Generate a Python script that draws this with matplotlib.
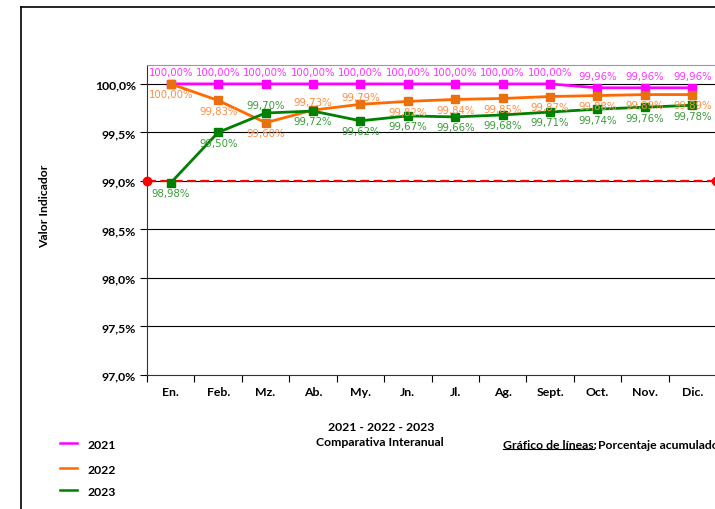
import matplotlib
matplotlib.use('Agg')
import matplotlib.pyplot as plt
from matplotlib.lines import Line2D
from matplotlib.ticker import FuncFormatter, MultipleLocator

# monthly accumulated percentage, one list per year
months = ['En.', 'Feb.', 'Mz.', 'Ab.', 'My.', 'Jn.', 'Jl.', 'Ag.', 'Sept.', 'Oct.', 'Nov.', 'Dic.']
val_2021 = [100.00, 100.00, 100.00, 100.00, 100.00, 100.00, 100.00, 100.00, 100.00, 99.96, 99.96, 99.96]
val_2022 = [100.00, 99.83, 99.60, 99.73, 99.79, 99.82, 99.84, 99.85, 99.87, 99.88, 99.89, 99.89]
val_2023 = [98.98, 99.50, 99.70, 99.72, 99.62, 99.67, 99.66, 99.68, 99.71, 99.74, 99.76, 99.78]
target = 99.0

# where each data label sits: a = above the point, b = below
pos_2021 = ['a'] * 12
pos_2022 = ['b', 'b', 'b', 'a', 'a', 'b', 'b', 'b', 'b', 'b', 'b', 'b']
pos_2023 = ['b', 'b', 'a', 'b', 'b', 'b', 'b', 'b', 'b', 'b', 'b', 'b']

series = [
    ('2021', val_2021, pos_2021, '#FF00FF', '#FF00FF', '#FF33FF', 8.5),
    ('2022', val_2022, pos_2022, '#FF6A00', '#E8700F', '#FF8C42', 5.5),
    ('2023', val_2023, pos_2023, '#008000', '#008000', '#3A9A3A', 5.5),
]

TXT = dict(fontsize=8.8, fontweight='bold', family='Lato')

W, H = 715, 510
fig = plt.figure(figsize=(W / 100, H / 100), dpi=100)
ax = fig.add_axes([147 / W, 1 - 376 / H, 569 / W, (376 - 65.5) / H])

x = list(range(len(months)))
ax.set_xlim(-0.5, len(months) - 0.5)
ax.set_ylim(97.0, 100.2)

# horizontal grid
for g in [97.5, 98.0, 98.5, 99.0, 99.5, 100.0]:
    ax.axhline(g, color='black', lw=0.8, zorder=1)

# target line
ax.plot([-0.5, len(months) - 0.5], [target, target], color='#FF0000', lw=1.6,
        ls=(0, (4, 2)), marker='o', ms=6, clip_on=False, zorder=3)

for name, vals, pos, lc, mc, tc, up in series:
    ax.plot(x, vals, color=lc, lw=2.0, marker='s', ms=6, mfc=mc, mec=mc, zorder=4)
    for xi, v, p in zip(x, vals, pos):
        dy = up if p == 'a' else -7.5
        ax.annotate(f'{v:.2f}%'.replace('.', ','), (xi, v), xytext=(0, dy),
                    textcoords='offset points', ha='center', va='center',
                    fontsize=7.3, color=tc, family='DejaVu Sans', zorder=5)

# axis styling
ax.spines['top'].set_color('#999999')
ax.spines['right'].set_color('#999999')
ax.spines['left'].set_color('#333333')
ax.spines['bottom'].set_color('#333333')
ax.yaxis.set_major_locator(MultipleLocator(0.5))
ax.yaxis.set_major_formatter(FuncFormatter(lambda v, p: f'{v:.1f}%'.replace('.', ',')))
ax.tick_params(axis='y', direction='out', length=5, width=0.8, labelsize=8.8, pad=3)
ax.set_xticks(x)
ax.set_xticklabels(months)
ax.set_xticks([i - 0.5 for i in range(len(months) + 1)], minor=True)
ax.tick_params(axis='x', which='major', length=0, labelsize=8.8, pad=8)
ax.tick_params(axis='x', which='minor', direction='out', length=5, width=0.8)
for lab in ax.get_xticklabels() + ax.get_yticklabels():
    lab.set_fontfamily('Lato')
    lab.set_fontweight('bold')

fig.text(45 / W, 1 - 206 / H, 'Valor Indicador', rotation=90, ha='center', va='center', **TXT)

# chart frame
fig.add_artist(Line2D([21 / W, 21 / W], [0, 1 - 8 / H], color='black', lw=1.2))
fig.add_artist(Line2D([21 / W, 1], [1 - 8 / H, 1 - 8 / H], color='black', lw=1.2))

# titles under the chart
fig.text(381 / W, 1 - 428 / H, '2021 - 2022 - 2023', ha='center', va='center', **TXT)
fig.text(380 / W, 1 - 443 / H, 'Comparativa Interanual', ha='center', va='center', **TXT)
t1 = fig.text(503 / W, 1 - 446 / H, 'Gráfico de líneas:', ha='left', va='center', **TXT)
fig.text(598 / W, 1 - 446 / H, 'Porcentaje acumulado', ha='left', va='center', **TXT)

# underline the chart type caption
fig.canvas.draw()
bb = t1.get_window_extent().transformed(fig.transFigure.inverted())
fig.add_artist(Line2D([bb.x0, bb.x1 - 0.004], [bb.y0 + 0.002, bb.y0 + 0.002], color='black', lw=0.8))

# legend on the lower left
leg_y = [444, 469, 491]
for (name, vals, pos, lc, mc, tc, up), ly in zip(series, leg_y):
    fig.add_artist(Line2D([60 / W, 77 / W], [1 - ly / H, 1 - ly / H], color=lc, lw=1.8))
    fig.text(88 / W, 1 - (ly + 2) / H, name, ha='left', va='center', **TXT)

fig.savefig('out.png', dpi=100)
